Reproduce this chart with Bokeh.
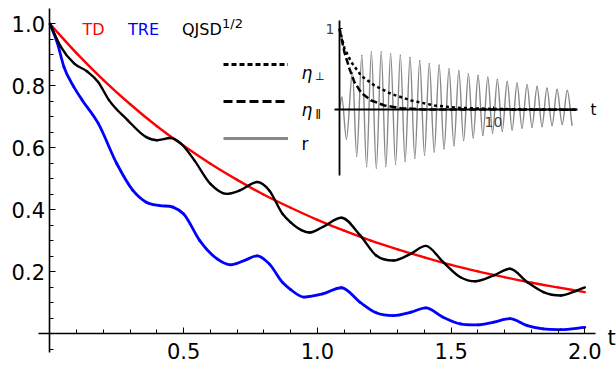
import numpy as np
from bokeh.plotting import figure
from bokeh.models import (Range1d, LinearAxis, FixedTicker, Label, Legend,
                          LegendItem, ColumnDataSource)
from bokeh.embed import file_html
from bokeh.resources import INLINE

# ---------------- data ----------------
# main panel: t in [0, 2]
td_t = [0.0, 0.1, 0.2, 0.3, 0.4, 0.5, 0.6, 0.7, 0.8, 0.9, 1.0,
        1.1, 1.2, 1.3, 1.4, 1.5, 1.6, 1.7, 1.8, 1.9, 2.0]
td_v = [1.0, 0.905, 0.819, 0.741, 0.670, 0.607, 0.549, 0.497, 0.449, 0.407, 0.368,
        0.333, 0.301, 0.273, 0.247, 0.223, 0.202, 0.183, 0.165, 0.150, 0.135]

qjsd_t = [0.0, 0.04, 0.09, 0.14, 0.18, 0.22, 0.29, 0.36, 0.40, 0.45, 0.49,
          0.54, 0.60, 0.66, 0.71, 0.775, 0.82, 0.87, 0.90, 0.94, 0.97,
          1.02, 1.09, 1.16, 1.22, 1.285, 1.35, 1.405, 1.47, 1.535, 1.59,
          1.66, 1.72, 1.785, 1.845, 1.91, 1.97, 2.0]
qjsd_v = [1.0, 0.927, 0.873, 0.846, 0.813, 0.755, 0.690, 0.635, 0.625, 0.632, 0.614,
          0.560, 0.484, 0.452, 0.463, 0.490, 0.463, 0.387, 0.360, 0.335, 0.327,
          0.345, 0.375, 0.318, 0.253, 0.237, 0.259, 0.284, 0.232, 0.183, 0.170,
          0.189, 0.210, 0.167, 0.135, 0.124, 0.140, 0.150]

tre_t = [0.0, 0.027, 0.052, 0.089, 0.12, 0.18, 0.25, 0.31, 0.36, 0.41, 0.46,
         0.50, 0.56, 0.625, 0.675, 0.725, 0.775, 0.82, 0.87, 0.90, 0.95,
         1.02, 1.09, 1.16, 1.22, 1.285, 1.35, 1.405, 1.47, 1.535, 1.60,
         1.66, 1.72, 1.785, 1.845, 1.91, 2.0]
tre_v = [1.0, 0.940, 0.862, 0.797, 0.755, 0.680, 0.549, 0.463, 0.425, 0.414, 0.409,
         0.387, 0.301, 0.242, 0.223, 0.236, 0.252, 0.226, 0.166, 0.143, 0.119,
         0.129, 0.149, 0.102, 0.068, 0.059, 0.070, 0.084, 0.054, 0.032, 0.029,
         0.038, 0.049, 0.027, 0.016, 0.014, 0.021]

# inset: t in [0, 15.4]
r_t = [0.0, 0.15, 0.45, 0.84, 1.12, 1.45, 1.76, 2.07, 2.39, 2.71, 3.01,
       3.32, 3.64, 3.95, 4.26, 4.58, 4.89, 5.21, 5.52, 5.83, 6.15,
       6.47, 6.79, 7.11, 7.43, 7.75, 8.06, 8.37, 8.68, 9.0, 9.31,
       9.63, 9.94, 10.25, 10.57, 10.89, 11.21, 11.53, 11.85, 12.18, 12.5,
       12.83, 13.15, 13.47, 13.8, 14.13, 14.46, 14.79, 15.1]
r_v = [0.0, 0.156, -0.36, 0.46, -0.57, 0.67, -0.70, 0.715, -0.72, 0.715, -0.70,
       0.69, -0.67, 0.675, -0.635, 0.645, -0.60, 0.605, -0.56, 0.57, -0.52,
       0.55, -0.48, 0.505, -0.44, 0.48, -0.38, 0.444, -0.346, 0.423, -0.317,
       0.403, -0.288, 0.374, -0.264, 0.35, -0.247, 0.329, -0.226, 0.308, -0.214,
       0.288, -0.206, 0.267, -0.193, 0.25, -0.181, 0.238, -0.19]

eta_perp_t = [0.0, 0.32, 0.76, 1.41, 2.27, 3.35, 4.65, 6.17, 7.68, 10.0, 15.4]
eta_perp_v = [1.0, 0.76, 0.59, 0.42, 0.30, 0.197, 0.115, 0.053, 0.025, 0.01, 0.0]

eta_par_t = [0.0, 0.32, 0.65, 0.97, 1.41, 2.06, 2.92, 4.0, 5.5, 15.4]
eta_par_v = [1.0, 0.71, 0.506, 0.341, 0.21, 0.115, 0.053, 0.02, 0.005, 0.0]

# ticks and labels
x_major = [0.5, 1.0, 1.5, 2.0]
x_labels = ["0.5", "1.0", "1.5", "2.0"]
x_minor = [round(0.1 * i, 2) for i in range(1, 21)]
y_major = [0.2, 0.4, 0.6, 0.8, 1.0]
y_labels = ["0.2", "0.4", "0.6", "0.8", "1.0"]
y_minor = [round(-0.05 + 0.05 * i, 2) for i in range(0, 21)]
inset_x_major = [10]
inset_x_labels = ["10"]
inset_y_major = [1]
inset_y_labels = ["1"]
series_names = ["TD", "TRE", "QJSD"]
series_colors = ["#ff0000", "#0000ff", "#000000"]

FONT = "DejaVu Sans"


def smooth_source(xs, ys):
    """Cubic Hermite (bezier) pieces through the read points."""
    xs = np.asarray(xs, float)
    ys = np.asarray(ys, float)
    h = np.diff(xs)
    d = np.diff(ys) / h
    n = len(xs)
    m = np.empty(n)
    m[0] = d[0]
    m[-1] = d[-1]
    for i in range(1, n - 1):
        if d[i - 1] * d[i] <= 0:
            m[i] = 0.0
        else:
            m[i] = (d[i - 1] * h[i] + d[i] * h[i - 1]) / (h[i - 1] + h[i])
    return ColumnDataSource(dict(
        x0=xs[:-1], y0=ys[:-1], x1=xs[1:], y1=ys[1:],
        cx0=xs[:-1] + h / 3, cy0=ys[:-1] + m[:-1] * h / 3,
        cx1=xs[1:] - h / 3, cy1=ys[1:] - m[1:] * h / 3))


# frame covers the whole canvas; axes are drawn at the origin with bounds
p = figure(width=616, height=371, output_backend="svg", toolbar_location=None,
           x_range=Range1d(-0.1851, 2.1185), y_range=Range1d(-0.1213, 1.0758),
           min_border=0)
p.grid.visible = False
p.outline_line_color = None
p.background_fill_color = "white"

p.extra_x_ranges = {"ix": Range1d(-22.013, 17.987), "px": Range1d(0, 616)}
p.extra_y_ranges = {"iy": Range1d(-3.2309, 1.3494), "px": Range1d(371, 0)}

# ---- main axes crossing at origin ----
xa = p.xaxis[0]
xa.fixed_location = 0
xa.bounds = (-0.043, 2.04)
xa.ticker = FixedTicker(ticks=x_major, minor_ticks=x_minor)
xa.major_label_overrides = dict(zip(x_major, x_labels))
ya = p.yaxis[0]
ya.fixed_location = 0
ya.bounds = (-0.06, 1.05)
ya.ticker = FixedTicker(ticks=y_major, minor_ticks=y_minor)
ya.major_label_overrides = dict(zip(y_major, y_labels))
for ax in (xa, ya):
    ax.axis_line_width = 1.6
    ax.axis_line_color = "black"
    ax.major_tick_in = 6
    ax.major_tick_out = 0
    ax.minor_tick_in = 4
    ax.minor_tick_out = 0
    ax.major_tick_line_width = 1
    ax.minor_tick_line_width = 1
    ax.major_label_text_font = FONT
    ax.major_label_text_font_size = "21px"
    ax.major_label_text_color = "black"
xa.major_label_standoff = 9
ya.major_label_standoff = 5

# ---- main curves ----
for tt, vv, col, lw in [(td_t, td_v, series_colors[0], 2.4),
                        (tre_t, tre_v, series_colors[1], 2.8),
                        (qjsd_t, qjsd_v, series_colors[2], 2.4)]:
    p.bezier(x0="x0", y0="y0", x1="x1", y1="y1", cx0="cx0", cy0="cy0",
             cx1="cx1", cy1="cy1", source=smooth_source(tt, vv),
             line_color=col, line_width=lw, line_cap="round")

# ---- inset ----
GRAY = "#888888"
p.bezier(x0="x0", y0="y0", x1="x1", y1="y1", cx0="cx0", cy0="cy0",
         cx1="cx1", cy1="cy1", source=smooth_source(r_t, r_v),
         line_color=GRAY, line_width=1.4, line_cap="round",
         x_range_name="ix", y_range_name="iy")
p.line(eta_perp_t, eta_perp_v, line_color="black", line_width=2.5, line_dash="3 3",
       x_range_name="ix", y_range_name="iy")
p.line(eta_par_t, eta_par_v, line_color="black", line_width=2.5, line_dash="7 3",
       x_range_name="ix", y_range_name="iy")

ixa = LinearAxis(x_range_name="ix", y_range_name="iy", fixed_location=0,
                 bounds=(-0.32, 15.45),
                 ticker=FixedTicker(ticks=inset_x_major, minor_ticks=[]),
                 major_label_overrides=dict(zip(inset_x_major, inset_x_labels)))
iya = LinearAxis(x_range_name="ix", y_range_name="iy", fixed_location=0,
                 bounds=(-0.81, 1.1),
                 ticker=FixedTicker(ticks=inset_y_major, minor_ticks=[]),
                 major_label_overrides=dict(zip(inset_y_major, inset_y_labels)))
for ax in (ixa, iya):
    ax.axis_line_width = 1.8
    ax.major_tick_in = 3
    ax.major_tick_out = 0
    ax.minor_tick_in = 0
    ax.minor_tick_out = 0
    ax.major_label_text_font = FONT
    ax.major_label_text_font_size = "14px"
ixa.major_label_standoff = 7
iya.major_label_standoff = 5
p.add_layout(ixa, "below")
p.add_layout(iya, "left")

# ---- line legend (library legend, keys from dummy renderers) ----
k1 = p.line([0], [0], line_color="black", line_width=3, line_dash="5 3",
            line_alpha=1)
k2 = p.line([0], [0], line_color="black", line_width=3, line_dash="9 4")
k3 = p.line([0], [0], line_color=GRAY, line_width=3.2)
leg = Legend(items=[LegendItem(label=" ", renderers=[k1]),
                    LegendItem(label=" ", renderers=[k2]),
                    LegendItem(label=" ", renderers=[k3])],
             location=(223, 223), glyph_width=65, glyph_height=20,
             label_height=20, label_width=1, spacing=17, padding=0, margin=0,
             border_line_color=None, background_fill_alpha=0,
             label_text_font_size="1px", label_standoff=0)
p.add_layout(leg)


def lab(x, y, text, size, color="black", style="normal", baseline="alphabetic",
        align="left"):
    p.add_layout(Label(x=x, y=y, x_range_name="px", y_range_name="px", text=text,
                       text_font=FONT, text_font_size=size, text_color=color,
                       text_font_style=style, text_baseline=baseline,
                       text_align=align))


# legend texts
lab(301, 72.5, "\u03b7", "17px", style="italic")
lab(314.5, 75.5, "\u22a5", "11px")
lab(301, 109.5, "\u03b7", "17px", style="italic")
lab(315, 113, "\u01c1", "11px")
lab(301, 143.5, "r", "17px")

# series names
lab(82, 28.5, series_names[0], "16px", color=series_colors[0])
lab(127.5, 28.5, series_names[1], "16px", color=series_colors[1])
lab(181.5, 28.5, series_names[2], "16px", color=series_colors[2])
lab(221.5, 23.3, "1/2", "13px")

# axis names
lab(607, 337, "t", "21px", baseline="middle")
lab(590, 109, "t", "15px", baseline="middle")

open("out.html", "w").write(file_html(p, INLINE))
